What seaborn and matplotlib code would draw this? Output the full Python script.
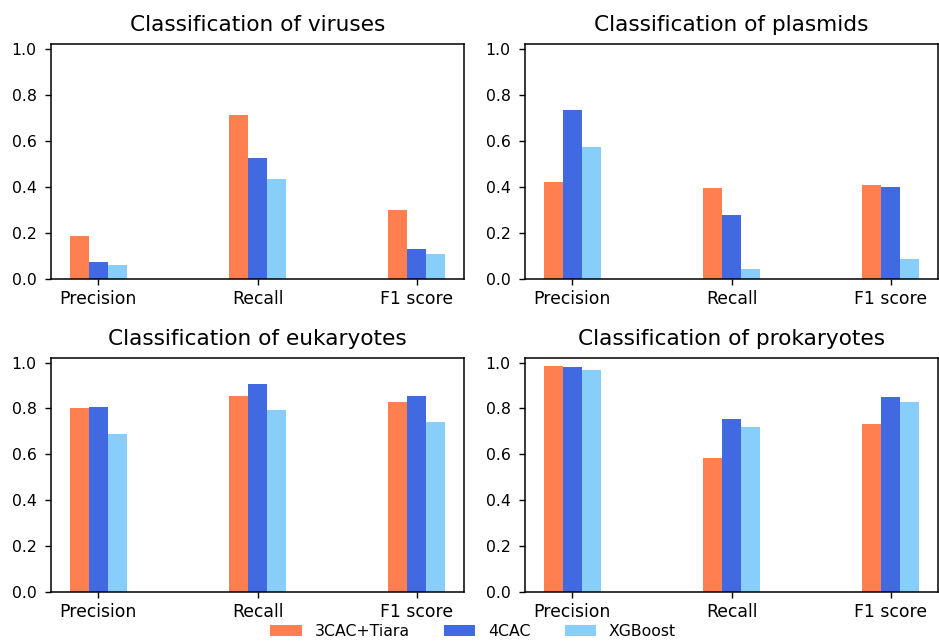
import matplotlib
matplotlib.use("Agg")
import matplotlib.pyplot as plt
from matplotlib.patches import Patch
import seaborn as sns
import pandas as pd

metrics = ["Precision", "Recall", "F1 score"]
methods = ["3CAC+Tiara", "4CAC", "XGBoost"]
colors = ["#FF7F50", "#4169E1", "#87CEFA"]

titles = ["Classification of viruses", "Classification of plasmids",
          "Classification of eukaryotes", "Classification of prokaryotes"]

viruses_3cac = [0.186, 0.714, 0.299]
viruses_4cac = [0.073, 0.524, 0.129]
viruses_xgb = [0.062, 0.434, 0.107]

plasmids_3cac = [0.422, 0.395, 0.406]
plasmids_4cac = [0.733, 0.277, 0.401]
plasmids_xgb = [0.573, 0.045, 0.086]

eukaryotes_3cac = [0.800, 0.856, 0.829]
eukaryotes_4cac = [0.806, 0.907, 0.856]
eukaryotes_xgb = [0.687, 0.794, 0.739]

prokaryotes_3cac = [0.985, 0.585, 0.733]
prokaryotes_4cac = [0.980, 0.755, 0.849]
prokaryotes_xgb = [0.968, 0.720, 0.827]

panels = [
    (viruses_3cac, viruses_4cac, viruses_xgb),
    (plasmids_3cac, plasmids_4cac, plasmids_xgb),
    (eukaryotes_3cac, eukaryotes_4cac, eukaryotes_xgb),
    (prokaryotes_3cac, prokaryotes_4cac, prokaryotes_xgb),
]

plt.rcParams["font.family"] = ["DejaVu Sans"]
YTICK_FS = 11.3
XTICK_FS = 12.4
TITLE_FS = 15.6

fig = plt.figure(figsize=(9.39, 6.42), dpi=100)
W, H = 939, 642
boxes = [
    (51, 44, 413, 235),
    (525, 44, 413, 235),
    (51, 358, 413, 234),
    (525, 358, 413, 234),
]

for (x0, y0, w, h), title, vals in zip(boxes, titles, panels):
    ax = fig.add_axes([x0 / W, 1 - (y0 + h) / H, w / W, h / H])
    rows = []
    for m, series in zip(methods, vals):
        for metric, v in zip(metrics, series):
            rows.append({"metric": metric, "method": m, "value": v})
    df = pd.DataFrame(rows)
    sns.barplot(data=df, x="metric", y="value", hue="method",
                order=metrics, hue_order=methods, palette=colors,
                saturation=1, width=0.36, gap=0, errorbar=None,
                legend=False, ax=ax, linewidth=0)
    ax.set_xlim(-0.298, 2.298)
    ax.set_ylim(0, 1.02)
    ax.set_yticks([0.0, 0.2, 0.4, 0.6, 0.8, 1.0])
    ax.set_yticklabels(["0.0", "0.2", "0.4", "0.6", "0.8", "1.0"])
    ax.set_xlabel("")
    ax.set_ylabel("")
    ax.tick_params(axis="y", labelsize=YTICK_FS, length=4.5, width=1, pad=5.8)
    ax.tick_params(axis="x", labelsize=XTICK_FS, length=4.5, width=1, pad=3.5)
    ax.set_title(title, fontsize=TITLE_FS, pad=9.5)
    for s in ax.spines.values():
        s.set_visible(True)
        s.set_color("black")
        s.set_linewidth(1.1)

handles = [Patch(facecolor=c, edgecolor="none", label=m) for m, c in zip(methods, colors)]
fig.legend(handles=handles, loc="lower center", bbox_to_anchor=(0.504, -0.018),
           ncol=3, frameon=False, fontsize=YTICK_FS, columnspacing=2.2)

fig.savefig("out.png", dpi=100)
